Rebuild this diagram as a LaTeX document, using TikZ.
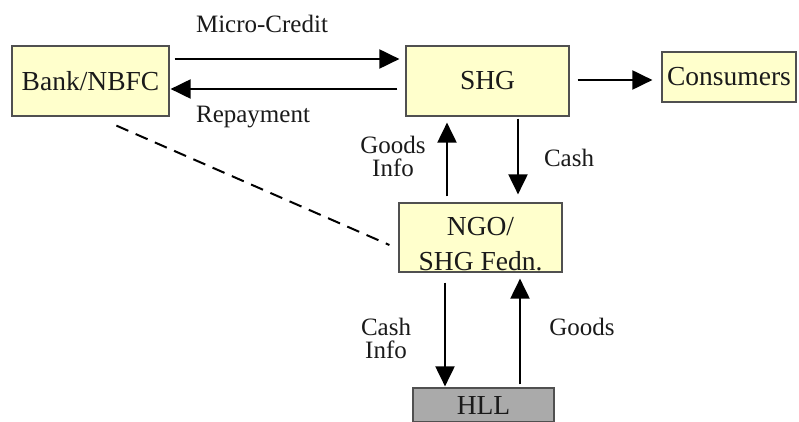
\documentclass[tikz,border=0pt]{standalone}
\usepackage{fontspec}
\setmainfont{Liberation Serif}
\usetikzlibrary{arrows.meta}
\definecolor{boxfill}{HTML}{FFFFCC}
\definecolor{boxline}{HTML}{505050}
\definecolor{hllfill}{HTML}{AAAAAA}
\definecolor{txt}{HTML}{1A1A1A}
\tikzset{
  box/.style={draw=boxline, line width=1.2pt, fill=boxfill, text=txt, inner sep=0pt, align=center,
    font=\fontsize{27.5}{35}\selectfont},
  lbl/.style={text=txt, inner sep=0pt, align=center, font=\fontsize{25}{23}\selectfont},
  arr/.style={line width=2pt, draw=black, -{Triangle[length=20pt,width=19pt]}},
  dashline/.style={line width=2pt, draw=black, dash pattern=on 13pt off 8pt},
}
\begin{document}
\begin{tikzpicture}[x=1pt,y=-1pt]
\useasboundingbox (0,0) rectangle (799,422);
\fill[white] (0,0) rectangle (799,422);
\node[box, minimum width=157pt, minimum height=70pt] (bank) at (90.5,81) {Bank/NBFC};
\node[box, minimum width=163pt, minimum height=70pt] (shg) at (487.5,81) {SHG};
\node[box, minimum width=134pt, minimum height=50pt] (cons) at (729,77) {Consumers};
\node[box, minimum width=163pt, minimum height=69pt] (ngo) at (480.5,237.5) {\rule{0pt}{32pt}NGO/\\SHG Fedn.};
\node[box, fill=hllfill, minimum width=141pt, minimum height=34pt] (hll) at (483.5,405) {HLL};

\node[lbl] (lmc) at (262,24) {Micro-Credit};
\node[lbl] (lrep) at (253,117) {Repayment};
\node[lbl] (lgi) at (393,156) {Goods\\Info};
\node[lbl] (lcash) at (569,158) {Cash};
\node[lbl] (lci) at (386,338) {Cash\\Info};
\node[lbl] (lgoods) at (582,327) {Goods};

\draw[arr] ([xshift=5pt,yshift=22pt]bank.east) -- ([xshift=-6pt,yshift=22pt]shg.west);
\draw[arr] ([xshift=-8pt,yshift=-8pt]shg.west) -- ([xshift=1pt,yshift=-8pt]bank.east);
\draw[arr] ([xshift=8pt,yshift=1pt]shg.east) -- ([xshift=-9pt,yshift=-3pt]cons.west);
\draw[arr] ([xshift=-33.5pt,yshift=6pt]ngo.north) -- ([xshift=-40.5pt,yshift=-6pt]shg.south);
\draw[arr] ([xshift=30.5pt,yshift=-2pt]shg.south) -- ([xshift=37.5pt,yshift=8pt]ngo.north);
\draw[arr] ([xshift=-35.5pt,yshift=-10pt]ngo.south) -- ([xshift=-38.5pt,yshift=1pt]hll.north);
\draw[arr] ([xshift=36.5pt,yshift=3pt]hll.north) -- ([xshift=39.5pt,yshift=-6pt]ngo.south);
\draw[dashline] ([xshift=105pt,yshift=-9pt]bank.south west) -- ([xshift=-9pt,yshift=-7.5pt]ngo.west);
\end{tikzpicture}
\end{document}
